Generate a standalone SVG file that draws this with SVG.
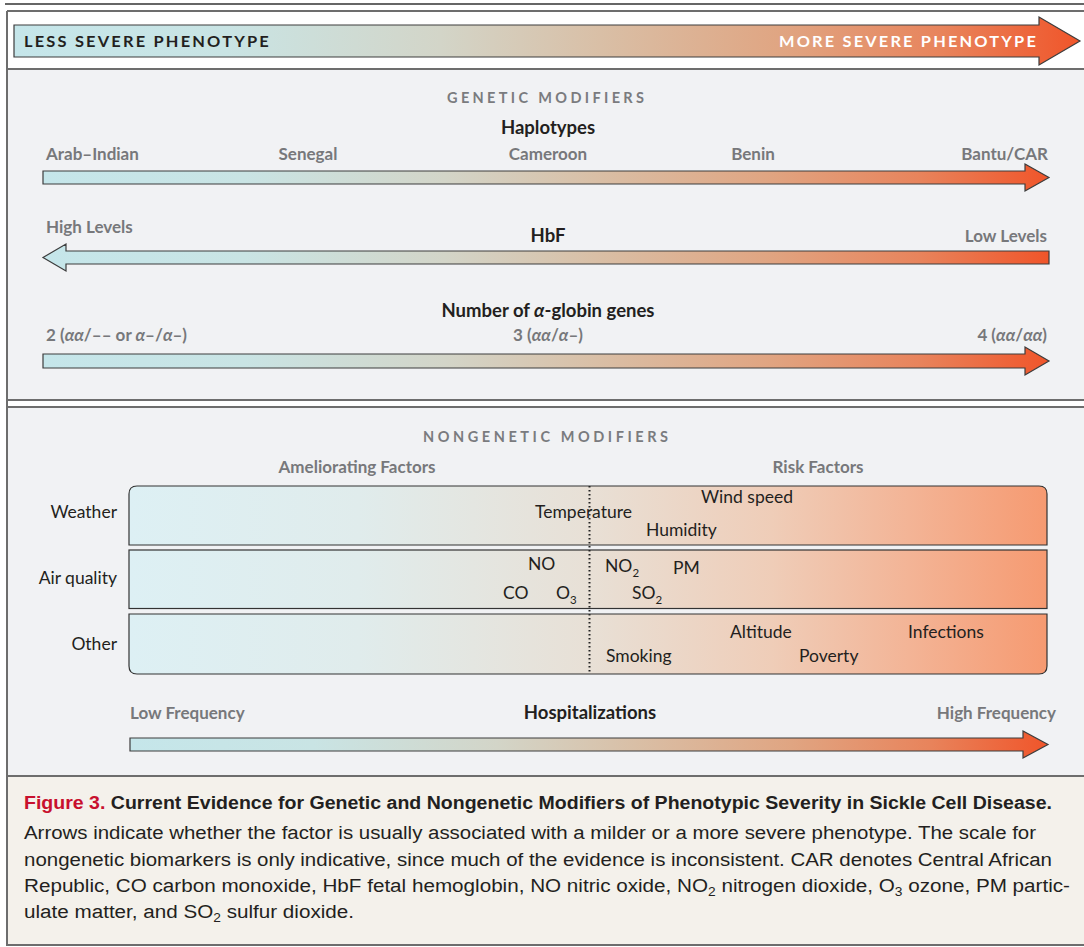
<svg xmlns="http://www.w3.org/2000/svg" width="1084" height="947" viewBox="0 0 1084 947">
<defs>
<linearGradient id="gArrow" x1="0" y1="0" x2="1" y2="0">
<stop offset="0" stop-color="#c5e6ea"/>
<stop offset="0.2" stop-color="#c9e4e4"/>
<stop offset="0.4" stop-color="#d3d5c8"/>
<stop offset="0.55" stop-color="#d9bfa6"/>
<stop offset="0.72" stop-color="#e0a582"/>
<stop offset="0.87" stop-color="#e8845c"/>
<stop offset="1" stop-color="#f0552a"/>
</linearGradient>
<linearGradient id="gBox" x1="0" y1="0" x2="1" y2="0">
<stop offset="0" stop-color="#ddf0f4"/>
<stop offset="0.25" stop-color="#e0ecec"/>
<stop offset="0.5" stop-color="#e8e0d6"/>
<stop offset="0.7" stop-color="#efcdb8"/>
<stop offset="0.85" stop-color="#f3b496"/>
<stop offset="1" stop-color="#f69a71"/>
</linearGradient>
<style>
.lbl{font-family:Lato,"Open Sans","Liberation Sans",sans-serif;font-weight:700;font-size:17px;fill:#77787b}
.ttl{font-family:Lato,"Open Sans","Liberation Sans",sans-serif;font-weight:700;font-size:18.5px;fill:#231f20}
.sec{font-family:Lato,"Open Sans","Liberation Sans",sans-serif;font-weight:700;font-size:14.5px;fill:#7a7b7e;letter-spacing:3px}
.reg{font-family:Lato,"Open Sans","Liberation Sans",sans-serif;font-size:17.5px;fill:#231f20}
.hdr{font-family:Lato,"Open Sans","Liberation Sans",sans-serif;font-weight:700;font-size:15px;letter-spacing:2px}
.cap{font-family:"Liberation Sans Narrow","Liberation Sans",sans-serif;font-size:18px;fill:#231f20}
.arrow{fill:url(#gArrow);stroke:#3d3d3d;stroke-width:1.2}
.box{fill:url(#gBox);stroke:#333;stroke-width:1.2}
.rule{stroke:#6d6d6d;stroke-width:2;fill:none}
</style>
</defs>
<rect x="0" y="0" width="1084" height="947" fill="#ffffff"/>
<!-- backgrounds -->
<rect x="7" y="70" width="1077" height="330" fill="#f1f2f4"/>
<rect x="7" y="408" width="1077" height="368" fill="#f1f2f4"/>
<rect x="7" y="777" width="1077" height="168" fill="#f4f1eb"/>
<line x1="5" y1="4" x2="1084" y2="4" stroke="#333" stroke-width="1.5"/>
<line x1="7" y1="11" x2="1084" y2="11" class="rule"/>
<line x1="7" y1="69" x2="1084" y2="69" class="rule"/>
<line x1="7" y1="400" x2="1084" y2="400" class="rule"/>
<line x1="7" y1="407" x2="1084" y2="407" class="rule"/>
<line x1="7" y1="776" x2="1084" y2="776" class="rule"/>
<line x1="7" y1="945" x2="1084" y2="945" class="rule"/>
<line x1="7" y1="11" x2="7" y2="946" class="rule"/>

<g id="connectors">
<path id="arrow-header" class="arrow" d="M14,25 H1039 V17 L1080,41 L1039,65 V57 H14 Z"/>
<path id="arrow-haplotypes" class="arrow" d="M43,171 H1025 V164 L1049,177.5 L1025,191 V184 H43 Z"/>
<path id="arrow-hbf" class="arrow" d="M1049,251 H66 V244 L43,257.5 L66,271 V264 H1049 Z"/>
<path id="arrow-alpha" class="arrow" d="M43,354 H1025 V347 L1049,361 L1025,375 V368 H43 Z"/>
<path id="arrow-hosp" class="arrow" d="M130,738 H1023 V731 L1048,744.5 L1023,758 V751 H130 Z"/>
</g>

<g id="header">
<text class="hdr" x="24" y="46.5" fill="#231f20" textLength="247" lengthAdjust="spacingAndGlyphs">LESS SEVERE PHENOTYPE</text>
<text class="hdr" x="779" y="46.5" fill="#ffffff" textLength="259" lengthAdjust="spacingAndGlyphs">MORE SEVERE PHENOTYPE</text>
</g>

<g id="genetic-title">
<text class="sec" x="447" y="103" textLength="200" lengthAdjust="spacing">GENETIC MODIFIERS</text>
</g>

<g id="haplotypes">
<text class="ttl" x="548" y="134" text-anchor="middle">Haplotypes</text>
<text class="lbl" x="46" y="160">Arab–Indian</text>
<text class="lbl" x="308" y="160" text-anchor="middle">Senegal</text>
<text class="lbl" x="548" y="160" text-anchor="middle">Cameroon</text>
<text class="lbl" x="753" y="160" text-anchor="middle">Benin</text>
<text class="lbl" x="1048" y="160" text-anchor="end">Bantu/CAR</text>
</g>

<g id="hbf">
<text class="lbl" x="46" y="233">High Levels</text>
<text class="ttl" x="548" y="242" text-anchor="middle">HbF</text>
<text class="lbl" x="1047" y="242" text-anchor="end">Low Levels</text>
</g>

<g id="alpha-globin">
<text class="ttl" x="548" y="317" text-anchor="middle">Number of <tspan font-style="italic">α</tspan>-globin genes</text>
<text class="lbl" x="46" y="341">2 (<tspan font-style="italic">αα</tspan>/–– or <tspan font-style="italic">α</tspan>–/<tspan font-style="italic">α</tspan>–)</text>
<text class="lbl" x="548" y="341" text-anchor="middle">3 (<tspan font-style="italic">αα</tspan>/<tspan font-style="italic">α</tspan>–)</text>
<text class="lbl" x="1047" y="341" text-anchor="end">4 (<tspan font-style="italic">αα</tspan>/<tspan font-style="italic">αα</tspan>)</text>
</g>

<g id="nongenetic-title">
<text class="sec" x="423" y="442" textLength="248" lengthAdjust="spacing">NONGENETIC MODIFIERS</text>
<text class="lbl" x="357" y="473" text-anchor="middle">Ameliorating Factors</text>
<text class="lbl" x="818" y="473" text-anchor="middle">Risk Factors</text>
</g>

<g id="weather">
<path class="box" d="M137,486 H1039 Q1047,486 1047,494 V545 H129 V494 Q129,486 137,486 Z"/>
<text class="reg" x="117" y="518" text-anchor="end">Weather</text>
<text class="reg" x="701" y="503">Wind speed</text>
<text class="reg" x="535" y="518">Temperature</text>
<text class="reg" x="646" y="536">Humidity</text>
</g>

<g id="air-quality">
<rect class="box" x="129" y="550" width="918" height="58.5"/>
<text class="reg" x="117" y="584" text-anchor="end">Air quality</text>
<text class="reg" x="528" y="570">NO</text>
<text class="reg" x="605" y="572">NO<tspan font-size="11.5" dy="5">2</tspan></text>
<text class="reg" x="673" y="574">PM</text>
<text class="reg" x="503" y="599">CO</text>
<text class="reg" x="556" y="599">O<tspan font-size="11.5" dy="5">3</tspan></text>
<text class="reg" x="632" y="599">SO<tspan font-size="11.5" dy="5">2</tspan></text>
</g>

<g id="other">
<path class="box" d="M129,614 H1047 V666 Q1047,674 1039,674 H137 Q129,674 129,666 Z"/>
<text class="reg" x="117" y="650" text-anchor="end">Other</text>
<text class="reg" x="730" y="638">Altitude</text>
<text class="reg" x="908" y="638">Infections</text>
<text class="reg" x="606" y="662">Smoking</text>
<text class="reg" x="799" y="662">Poverty</text>
</g>

<line id="divider" x1="589.5" y1="486" x2="589.5" y2="674" stroke="#222" stroke-width="2" stroke-dasharray="1.5 2.5"/>

<g id="hospitalizations">
<text class="lbl" x="130" y="719">Low Frequency</text>
<text class="ttl" x="590" y="719" text-anchor="middle">Hospitalizations</text>
<text class="lbl" x="1056" y="719" text-anchor="end">High Frequency</text>
</g>

<g id="caption">
<text class="cap" x="24" y="809" font-weight="700" textLength="1028" lengthAdjust="spacingAndGlyphs"><tspan fill="#c8102e">Figure 3.</tspan> Current Evidence for Genetic and Nongenetic Modifiers of Phenotypic Severity in Sickle Cell Disease.</text>
<text class="cap" x="24" y="839" textLength="1012" lengthAdjust="spacingAndGlyphs">Arrows indicate whether the factor is usually associated with a milder or a more severe phenotype. The scale for</text>
<text class="cap" x="24" y="866" textLength="1028" lengthAdjust="spacingAndGlyphs">nongenetic biomarkers is only indicative, since much of the evidence is inconsistent. CAR denotes Central African</text>
<text class="cap" x="24" y="892" textLength="1046" lengthAdjust="spacingAndGlyphs">Republic, CO carbon monoxide, HbF fetal hemoglobin, NO nitric oxide, NO<tspan font-size="12" dy="4">2</tspan><tspan dy="-4"> nitrogen dioxide, O</tspan><tspan font-size="12" dy="4">3</tspan><tspan dy="-4"> ozone, PM partic-</tspan></text>
<text class="cap" x="24" y="918" textLength="330" lengthAdjust="spacingAndGlyphs">ulate matter, and SO<tspan font-size="12" dy="4">2</tspan><tspan dy="-4"> sulfur dioxide.</tspan></text>
</g>
</svg>
